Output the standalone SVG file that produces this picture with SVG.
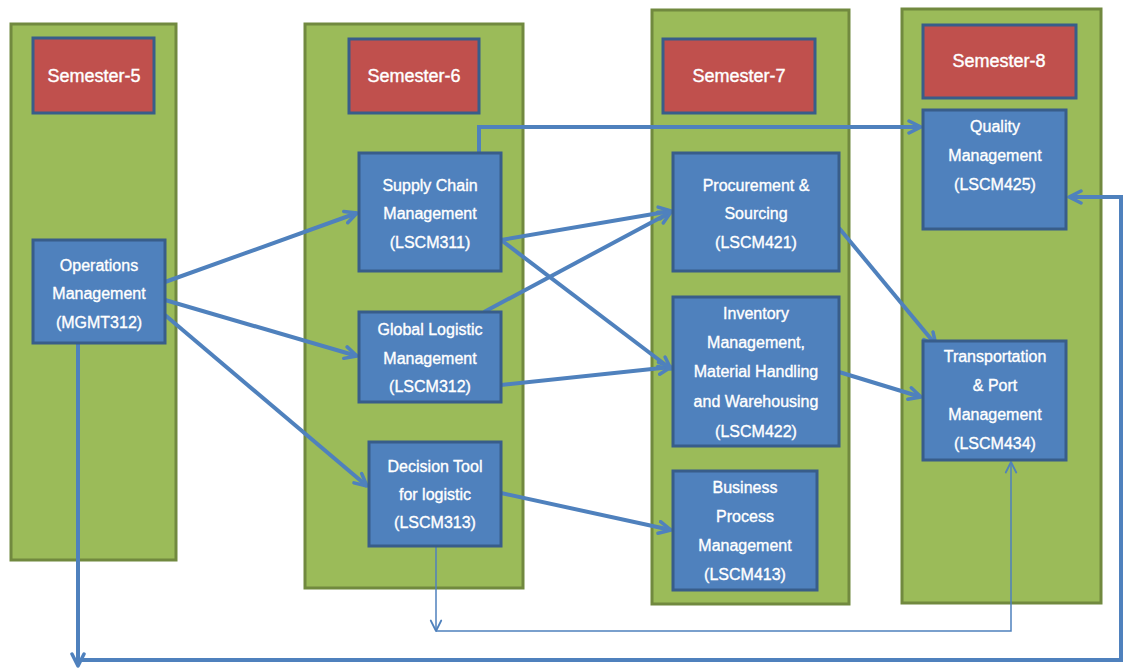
<svg xmlns="http://www.w3.org/2000/svg" width="1124" height="670" viewBox="0 0 1124 670">
  <style>
    .sem { fill: #9BBB59; stroke: #71893F; stroke-width: 3; }
    .head { fill: #C0504D; stroke: #385D8A; stroke-width: 3; }
    .node { fill: #4F81BD; stroke: #385D8A; stroke-width: 3; }
    .ht { font-family: "Liberation Sans", Arial, sans-serif; font-size: 18px; fill: #FFFFFF; stroke: #FFFFFF; stroke-width: 0.4; text-anchor: middle; }
    .nt { font-family: "Liberation Sans", Arial, sans-serif; font-size: 16px; fill: #FFFFFF; stroke: #FFFFFF; stroke-width: 0.35; text-anchor: middle; }
    .c { fill: none; stroke: #4F81BD; stroke-width: 4; }
    .thin { fill: none; stroke: #4F81BD; stroke-width: 1.5; }
  </style>
  <defs>
    <marker id="arr" viewBox="0 0 16 16" refX="14" refY="8" markerWidth="16" markerHeight="16" markerUnits="userSpaceOnUse" orient="auto">
      <path d="M2,2 L14,8 L2,14" fill="none" stroke="#4F81BD" stroke-width="3.5" stroke-linecap="round" stroke-linejoin="round"/>
    </marker>
    <marker id="arrThin" viewBox="0 0 16 16" refX="14" refY="8" markerWidth="14" markerHeight="14" markerUnits="userSpaceOnUse" orient="auto">
      <path d="M2,2 L14,8 L2,14" fill="none" stroke="#4F81BD" stroke-width="2" stroke-linecap="round" stroke-linejoin="round"/>
    </marker>
  </defs>

  <rect width="1124" height="670" fill="#FFFFFF"/>

  <!-- semester columns -->
  <g id="semester-5">
    <rect class="sem" x="11" y="24" width="165" height="536"/>
    <rect class="head" x="33" y="38" width="121" height="75"/>
    <text class="ht" x="94" y="82">Semester-5</text>
  </g>
  <g id="semester-6">
    <rect class="sem" x="305" y="24" width="218" height="564"/>
    <rect class="head" x="349" y="39" width="130" height="74"/>
    <text class="ht" x="414" y="82">Semester-6</text>
  </g>
  <g id="semester-7">
    <rect class="sem" x="652" y="10" width="197" height="594"/>
    <rect class="head" x="663" y="39" width="152" height="74"/>
    <text class="ht" x="739" y="82">Semester-7</text>
  </g>
  <g id="semester-8">
    <rect class="sem" x="902" y="9" width="199" height="594"/>
    <rect class="head" x="923" y="25" width="153" height="73"/>
    <text class="ht" x="999" y="67">Semester-8</text>
  </g>

  <!-- connectors -->
  <g id="connectors">
    <path class="c" d="M165,282 L357,213" marker-end="url(#arr)"/>
    <path class="c" d="M165,300 L357,356" marker-end="url(#arr)"/>
    <path class="c" d="M165,315 L367,486" marker-end="url(#arr)"/>
    <path class="c" d="M479,153 V127 H921" marker-end="url(#arr)"/>
    <path class="c" d="M501,240 L671,211" marker-end="url(#arr)"/>
    <path class="c" d="M501,240 L671,369" marker-end="url(#arr)"/>
    <path class="c" d="M484,312 L671,212" marker-end="url(#arr)"/>
    <path class="c" d="M501,385 L671,367" marker-end="url(#arr)"/>
    <path class="c" d="M501,493 L671,530" marker-end="url(#arr)"/>
    <path class="c" d="M839,228 L936,345" marker-end="url(#arr)"/>
    <path class="c" d="M839,372 L921,397" marker-end="url(#arr)"/>
    <path class="c" d="M78,343 V666" marker-end="url(#arr)"/>
    <path class="c" d="M78,660 H1121 V197 H1069" marker-end="url(#arr)"/>
    <path class="thin" d="M436,547 V631" marker-end="url(#arrThin)"/>
    <path class="thin" d="M436,631 H1011 V462" marker-end="url(#arrThin)"/>
  </g>

  <!-- course nodes -->
  <g id="ops-mgmt">
    <rect class="node" x="33" y="240" width="132" height="103"/>
    <text class="nt" x="99" y="271">Operations</text>
    <text class="nt" x="99" y="299">Management</text>
    <text class="nt" x="99" y="328">(MGMT312)</text>
  </g>
  <g id="lscm311">
    <rect class="node" x="359" y="153" width="142" height="118"/>
    <text class="nt" x="430" y="191">Supply Chain</text>
    <text class="nt" x="430" y="219">Management</text>
    <text class="nt" x="430" y="248">(LSCM311)</text>
  </g>
  <g id="lscm312">
    <rect class="node" x="359" y="312" width="142" height="90"/>
    <text class="nt" x="430" y="335">Global Logistic</text>
    <text class="nt" x="430" y="364">Management</text>
    <text class="nt" x="430" y="392">(LSCM312)</text>
  </g>
  <g id="lscm313">
    <rect class="node" x="369" y="442" width="132" height="104"/>
    <text class="nt" x="435" y="472">Decision Tool</text>
    <text class="nt" x="435" y="500">for logistic</text>
    <text class="nt" x="435" y="528">(LSCM313)</text>
  </g>
  <g id="lscm421">
    <rect class="node" x="673" y="153" width="166" height="118"/>
    <text class="nt" x="756" y="191">Procurement &amp;</text>
    <text class="nt" x="756" y="219">Sourcing</text>
    <text class="nt" x="756" y="248">(LSCM421)</text>
  </g>
  <g id="lscm422">
    <rect class="node" x="673" y="297" width="166" height="149"/>
    <text class="nt" x="756" y="319">Inventory</text>
    <text class="nt" x="756" y="348">Management,</text>
    <text class="nt" x="756" y="377">Material Handling</text>
    <text class="nt" x="756" y="407">and Warehousing</text>
    <text class="nt" x="756" y="437">(LSCM422)</text>
  </g>
  <g id="lscm413">
    <rect class="node" x="673" y="471" width="144" height="119"/>
    <text class="nt" x="745" y="493">Business</text>
    <text class="nt" x="745" y="522">Process</text>
    <text class="nt" x="745" y="551">Management</text>
    <text class="nt" x="745" y="580">(LSCM413)</text>
  </g>
  <g id="lscm425">
    <rect class="node" x="923" y="110" width="143" height="119"/>
    <text class="nt" x="995" y="132">Quality</text>
    <text class="nt" x="995" y="161">Management</text>
    <text class="nt" x="995" y="190">(LSCM425)</text>
  </g>
  <g id="lscm434">
    <rect class="node" x="923" y="341" width="143" height="119"/>
    <text class="nt" x="995" y="362">Transportation</text>
    <text class="nt" x="995" y="391">&amp; Port</text>
    <text class="nt" x="995" y="420">Management</text>
    <text class="nt" x="995" y="449">(LSCM434)</text>
  </g>
</svg>
